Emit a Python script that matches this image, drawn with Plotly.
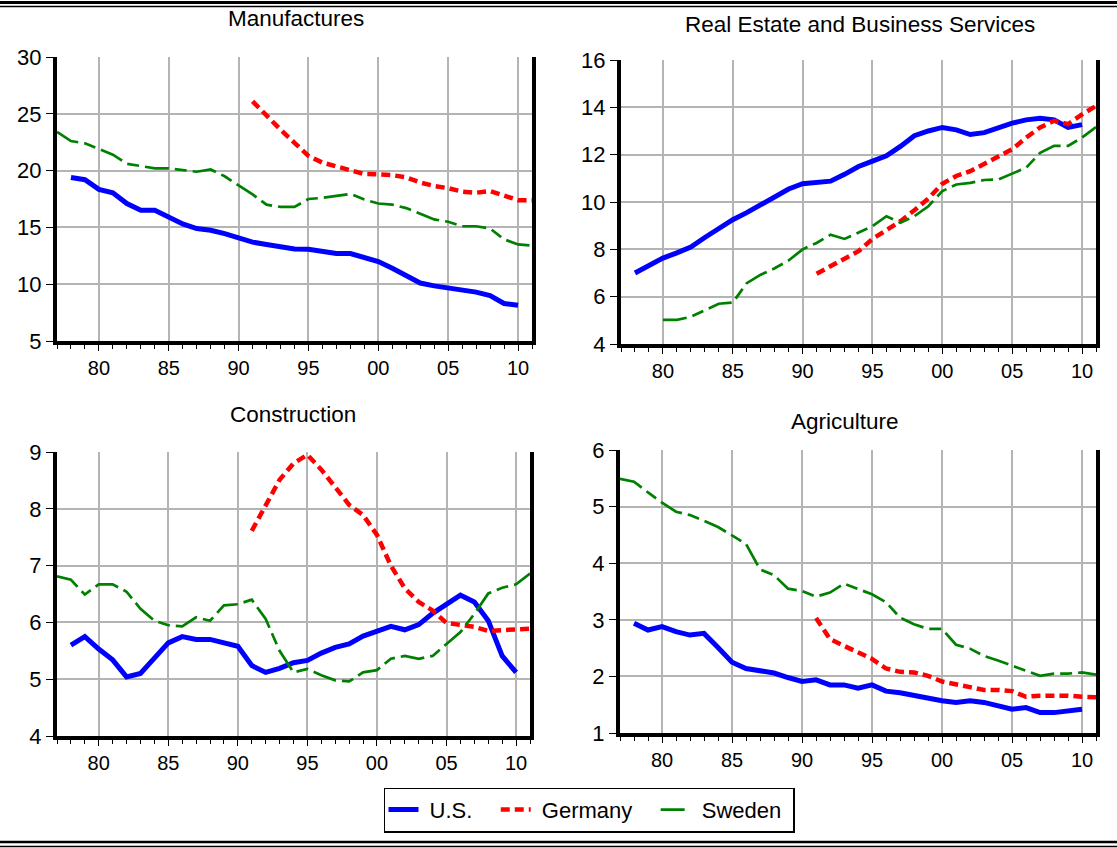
import plotly.graph_objects as go
from plotly.subplots import make_subplots

# Years covered by each country's series
years_us = list(range(1978, 2011))
years_de = list(range(1991, 2012))
years_se = list(range(1977, 2012))
years_se_re = list(range(1980, 2012))

# Manufactures (share, %)
manuf_us = [19.4, 19.2, 18.35, 18.05, 17.1, 16.5, 16.5, 15.9, 15.3, 14.9, 14.75, 14.45, 14.05,
            13.7, 13.5, 13.25, 13.1, 13.07, 12.85, 12.7, 12.7, 12.3, 12.0, 11.4, 10.7, 10.1,
            9.85, 9.7, 9.55, 9.3, 9.0, 8.3, 8.15]
manuf_de = [26.1, 24.8, 23.6, 22.45, 21.3, 20.7, 20.4, 20.1, 19.7, 19.67, 19.6, 19.4, 18.95,
            18.65, 18.45, 18.15, 18.05, 18.2, 17.75, 17.4, 17.4]
manuf_se = [23.4, 22.6, 22.4, 21.9, 21.4, 20.6, 20.4, 20.2, 20.2, 20.05, 19.9, 20.1, 19.5, 18.7,
            17.9, 17.0, 16.8, 16.8, 17.5, 17.6, 17.75, 17.95, 17.45, 17.1, 17.0, 16.7, 16.2,
            15.7, 15.5, 15.1, 15.1, 14.9, 13.95, 13.5, 13.4]

# Real Estate and Business Services
re_us = [7.0, 7.3, 7.63, 7.85, 8.1, 8.5, 8.9, 9.25, 9.55, 9.9, 10.2, 10.55, 10.77, 10.83,
         10.88, 11.17, 11.5, 11.73, 11.95, 12.35, 12.8, 13.0, 13.15, 13.05, 12.85, 12.93,
         13.15, 13.33, 13.47, 13.54, 13.47, 13.15, 13.27]
re_de = [6.97, 7.28, 7.56, 7.92, 8.44, 8.83, 9.19, 9.65, 10.15, 10.77, 11.1, 11.3, 11.6,
         11.95, 12.23, 12.72, 13.15, 13.43, 13.29, 13.7, 14.06]
re_se = [5.02, 5.02, 5.15, 5.44, 5.7, 5.75, 6.57, 6.93, 7.2, 7.53, 8.0, 8.27, 8.62, 8.44,
         8.72, 8.98, 9.4, 9.12, 9.4, 9.82, 10.46, 10.74, 10.81, 10.93, 10.95, 11.2, 11.45,
         12.08, 12.37, 12.37, 12.72, 13.17]

# Construction
con_us = [5.6, 5.75, 5.53, 5.34, 5.04, 5.1, 5.37, 5.64, 5.75, 5.7, 5.7, 5.64, 5.58, 5.24,
          5.12, 5.19, 5.29, 5.33, 5.46, 5.56, 5.62, 5.76, 5.84, 5.93, 5.87, 5.96, 6.16, 6.32,
          6.48, 6.36, 6.03, 5.41, 5.12]
con_de = [7.61, 8.05, 8.51, 8.8, 8.95, 8.69, 8.39, 8.07, 7.89, 7.54, 7.0, 6.6, 6.36, 6.21,
          5.99, 5.95, 5.92, 5.85, 5.86, 5.87, 5.89]
con_se = [6.81, 6.75, 6.49, 6.67, 6.67, 6.54, 6.24, 6.03, 5.95, 5.93, 6.09, 6.03, 6.3, 6.32,
          6.4, 6.06, 5.5, 5.12, 5.18, 5.07, 4.98, 4.96, 5.12, 5.16, 5.36, 5.41, 5.36, 5.41,
          5.62, 5.83, 6.15, 6.51, 6.61, 6.67, 6.86]

# Agriculture
agr_us = [2.94, 2.82, 2.88, 2.79, 2.73, 2.76, 2.51, 2.25, 2.14, 2.11, 2.06, 1.98, 1.91, 1.94,
          1.85, 1.85, 1.79, 1.85, 1.74, 1.71, 1.66, 1.63, 1.57, 1.54, 1.57, 1.54, 1.49, 1.42,
          1.45, 1.36, 1.36, 1.39, 1.42]
agr_de = [3.03, 2.66, 2.54, 2.42, 2.31, 2.14, 2.08, 2.07, 2.01, 1.91, 1.85, 1.81, 1.76, 1.76,
          1.74, 1.64, 1.66, 1.66, 1.66, 1.64, 1.63]
agr_se = [5.49, 5.44, 5.25, 5.07, 4.91, 4.85, 4.75, 4.64, 4.49, 4.34, 3.89, 3.79, 3.55, 3.51,
          3.41, 3.48, 3.64, 3.54, 3.45, 3.31, 3.04, 2.92, 2.84, 2.84, 2.56, 2.49, 2.36, 2.28,
          2.19, 2.11, 2.01, 2.05, 2.05, 2.07, 2.03]

panel_titles = ["Manufactures", "Real Estate and Business Services", "Construction", "Agriculture"]
country_names = ["U.S.", "Germany", "Sweden"]
x_tickvals = [1980, 1985, 1990, 1995, 2000, 2005, 2010]
x_ticktext = ["80", "85", "90", "95", "00", "05", "10"]
y_ranges = [[5, 30], [4, 16], [4, 9], [1, 6]]
y_dticks = [5, 2, 1, 1]

panels = [
    (manuf_us, manuf_de, manuf_se, years_se),
    (re_us, re_de, re_se, years_se_re),
    (con_us, con_de, con_se, years_se),
    (agr_us, agr_de, agr_se, years_se),
]

styles = [
    dict(color="#0000FF", width=5, dash="solid"),
    dict(color="#FF0000", width=4.5, dash="9px,5px"),
    dict(color="#008000", width=2.7, dash="24px,6px,12px,6px"),
]

FONT = "Arial, Liberation Sans, sans-serif"
W, H = 1117, 848
NBSP = "\u00a0"
# legend label padding (leading, trailing) in non-breaking spaces
label_pad = [(1, 3), (1, 3), (1, 1)]

fig = make_subplots(rows=2, cols=2)

for i, (us, de, se, yse) in enumerate(panels):
    r, c = i // 2 + 1, i % 2 + 1
    for j, (xs, ys) in enumerate([(years_us, us), (years_de, de), (yse, se)]):
        lead, trail = label_pad[j]
        fig.add_trace(
            go.Scatter(x=xs, y=ys, mode="lines",
                       name=NBSP * lead + country_names[j] + NBSP * trail,
                       line=styles[j], showlegend=(i == 0), legendgroup=country_names[j]),
            row=r, col=c,
        )

# plot-area boxes in pixels: (left, right, top, bottom)
boxes = [(57, 532, 57, 341), (621, 1096, 60, 344), (57, 530, 452, 736), (620, 1096, 450, 733)]
title_pos = [(296, 19), (860, 25), (293, 415), (845, 421)]

for i, (l, rgt, t, b) in enumerate(boxes):
    n = "" if i == 0 else str(i + 1)
    fig.layout["xaxis" + n].update(
        domain=[l / W, rgt / W], range=[1977, 2011], automargin=False,
        tickmode="array", tickvals=x_tickvals, ticktext=x_ticktext,
        ticks="outside", ticklen=6, tickwidth=1.2, tickcolor="black",
        minor=dict(tickmode="linear", tick0=1977, dtick=1, ticks="outside",
                   ticklen=4, tickwidth=1.2, tickcolor="black", showgrid=False),
        showgrid=True, gridcolor="#b4b4b4", gridwidth=1.6,
        showline=True, linecolor="black", linewidth=4, mirror=False,
        zeroline=False, tickfont=dict(family=FONT, size=20, color="black"),
        fixedrange=True,
    )
    fig.layout["yaxis" + n].update(
        domain=[1 - b / H, 1 - t / H], range=y_ranges[i], automargin=False,
        tickmode="linear", tick0=y_ranges[i][0], dtick=y_dticks[i],
        ticks="outside", ticklen=7, tickwidth=1.2, tickcolor="black",
        showgrid=True, gridcolor="#b4b4b4", gridwidth=1.6,
        showline=True, linecolor="black", linewidth=4, mirror=True,
        zeroline=False, tickfont=dict(family=FONT, size=22, color="black"),
        fixedrange=True,
    )
    tx, ty = title_pos[i]
    fig.add_annotation(
        x=tx / W, y=1 - ty / H, xref="paper", yref="paper",
        text=panel_titles[i], showarrow=False, xanchor="center", yanchor="middle",
        font=dict(family=FONT, size=22.5, color="black"),
    )

# double rules across the top and bottom of the page
for y0, w in [(2.5, 3), (6.5, 1.5), (842, 2.5), (846.5, 1.5)]:
    fig.add_shape(type="line", xref="paper", yref="paper",
                  x0=0, x1=1, y0=1 - y0 / H, y1=1 - y0 / H,
                  line=dict(color="black", width=w))

fig.update_layout(
    width=W, height=H,
    margin=dict(l=0, r=0, t=0, b=0, autoexpand=False),
    paper_bgcolor="white", plot_bgcolor="white",
    font=dict(family=FONT, color="black"),
    showlegend=True,
    legend=dict(
        orientation="h", x=589 / W, y=1 - 810 / H, xanchor="center", yanchor="middle",
        bordercolor="black", borderwidth=1.3, bgcolor="white",
        font=dict(family=FONT, size=22, color="black"),
        itemwidth=30, tracegroupgap=0,
    ),
)

fig.write_html("out.html")
